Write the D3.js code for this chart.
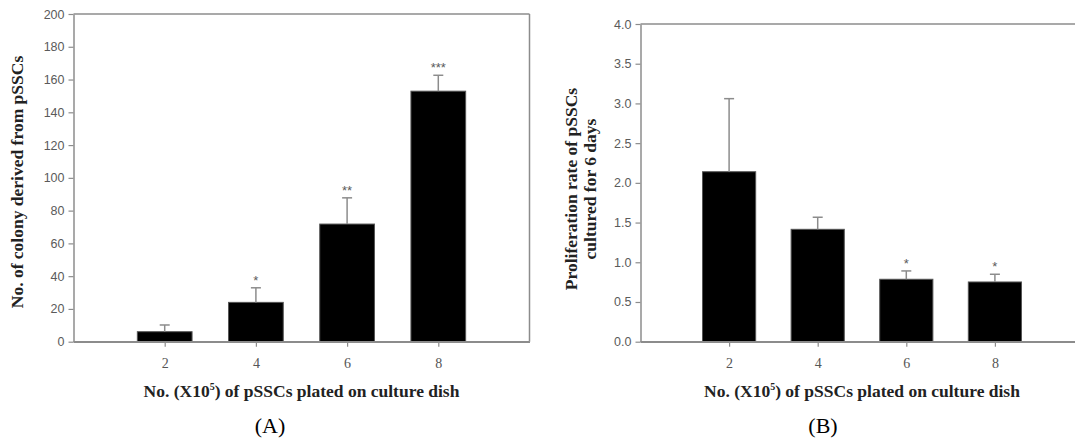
<!DOCTYPE html>
<html>
<head>
<meta charset="utf-8">
<script src="https://cdn.jsdelivr.net/npm/d3@7/dist/d3.min.js"></script>
<style>
  html, body { margin: 0; padding: 0; background: #fff; }
  svg { display: block; }
</style>
</head>
<body>
<div id="chart"></div>
<script>
// cells plated (x10^5)
const doses = [2, 4, 6, 8];
const xTicks = [2, 4, 6, 8];

// panel A: colonies derived from pSSCs
const colonyMean = [6.1, 24, 71.8, 152.9];
const colonyErr = [4.1, 8.9, 16, 9.7];
const colonySig = ['', '*', '**', '***'];
const colonyTicks = [0, 20, 40, 60, 80, 100, 120, 140, 160, 180, 200];

// panel B: proliferation rate after 6 days
const prolifMean = [2.14, 1.415, 0.786, 0.752];
const prolifErr = [0.92, 0.152, 0.105, 0.097];
const prolifSig = ['', '', '*', '*'];
const prolifTicks = [0, 0.5, 1, 1.5, 2, 2.5, 3, 3.5, 4];

const W = 1075, H = 438;
const axisGray = '#8c8c8c';
const labelGray = '#5a5a5a';
const serif = '"Liberation Serif", "Times New Roman", serif';
const sans = '"Liberation Sans", Arial, sans-serif';

const svg = d3.select('#chart').append('svg')
    .attr('width', W)
    .attr('height', H);

//一个面板
function panel(opt) {
    let g = svg.append('g');
    let x = d3.scaleLinear().domain([0, 10]).range([opt.left, opt.left + opt.unit * 10]);
    let y = d3.scaleLinear().domain(opt.yDomain).range([opt.bottom, opt.top]);

    // frame: top line (and right line when it fits)
    g.append('line')
        .attr('x1', opt.left).attr('x2', Math.min(x(10), W))
        .attr('y1', opt.top).attr('y2', opt.top)
        .attr('stroke', axisGray).attr('stroke-width', 1.5);
    if (x(10) < W) {
        g.append('line')
            .attr('x1', x(10)).attr('x2', x(10))
            .attr('y1', opt.top).attr('y2', opt.bottom)
            .attr('stroke', axisGray).attr('stroke-width', 1.5);
    }

    // bars
    let bw = x(1.2) - x(0);
    g.selectAll('rect.bar')
        .data(doses)
        .enter()
        .append('rect')
        .attr('class', 'bar')
        .attr('x', d => x(d) - bw / 2)
        .attr('width', bw)
        .attr('y', (d, i) => y(opt.mean[i]))
        .attr('height', (d, i) => y(0) - y(opt.mean[i]))
        .attr('fill', '#000')
        .attr('stroke', '#555')
        .attr('stroke-width', 1);

    // error bars (upper only)
    let eb = g.selectAll('g.err')
        .data(doses)
        .enter()
        .append('g')
        .attr('class', 'err')
        .attr('stroke', axisGray)
        .attr('stroke-width', 1.5);
    eb.append('line')
        .attr('x1', d => x(d)).attr('x2', d => x(d))
        .attr('y1', (d, i) => y(opt.mean[i]))
        .attr('y2', (d, i) => y(opt.mean[i] + opt.err[i]));
    eb.append('line')
        .attr('x1', d => x(d) - 5).attr('x2', d => x(d) + 5)
        .attr('y1', (d, i) => y(opt.mean[i] + opt.err[i]))
        .attr('y2', (d, i) => y(opt.mean[i] + opt.err[i]));

    // significance stars
    g.selectAll('text.sig')
        .data(doses)
        .enter()
        .append('text')
        .attr('class', 'sig')
        .attr('x', d => x(d))
        .attr('y', (d, i) => y(opt.mean[i] + opt.err[i]) - 3)
        .attr('text-anchor', 'middle')
        .attr('font-family', sans)
        .attr('font-size', 13)
        .attr('fill', labelGray)
        .text((d, i) => opt.sig[i]);

    // axes
    let yAxis = g.append('g')
        .attr('transform', 'translate(' + opt.left + ',0)')
        .call(d3.axisLeft(y).tickValues(opt.yTicks).tickFormat(opt.fmt).tickSize(5).tickSizeOuter(0));
    let xAxis = g.append('g')
        .attr('transform', 'translate(0,' + opt.bottom + ')')
        .call(d3.axisBottom(x).tickValues(xTicks).tickFormat(d3.format('d')).tickSize(5).tickSizeOuter(0));
    [yAxis, xAxis].forEach(a => {
        a.select('.domain').attr('stroke', axisGray).attr('stroke-width', 1.5);
        a.selectAll('.tick line').attr('stroke', axisGray).attr('stroke-width', 1.2);
    });
    yAxis.selectAll('.tick text')
        .attr('font-family', sans).attr('font-size', 12.5).attr('fill', labelGray).attr('x', -9);
    xAxis.selectAll('.tick text')
        .attr('font-family', serif).attr('font-size', 14).attr('fill', '#555').attr('y', 16);
    // extend x axis line to the frame edge
    g.append('line')
        .attr('x1', opt.left).attr('x2', Math.min(x(10), W))
        .attr('y1', opt.bottom).attr('y2', opt.bottom)
        .attr('stroke', axisGray).attr('stroke-width', 1.5);

    // x title
    let xt = g.append('text')
        .attr('x', x(5)).attr('y', opt.bottom + 55)
        .attr('text-anchor', 'middle')
        .attr('font-family', serif).attr('font-weight', 'bold').attr('font-size', 17.5)
        .attr('fill', '#222');
    xt.append('tspan').text('No. (X10');
    xt.append('tspan').attr('dy', -7).attr('font-size', 10).text('5');
    xt.append('tspan').attr('dy', 7).text(') of pSSCs plated on culture dish');

    // y title
    let yt = g.append('text')
        .attr('transform', 'translate(' + opt.yTitleX + ',' + opt.yTitleY + ') rotate(-90)')
        .attr('text-anchor', 'middle')
        .attr('font-family', serif).attr('font-weight', 'bold').attr('font-size', 17.5)
        .attr('fill', '#222');
    opt.yTitle.forEach((t, i) => {
        yt.append('tspan').attr('x', 0).attr('dy', i === 0 ? 0 : 19).text(t);
    });

    // caption
    g.append('text')
        .attr('x', opt.capX).attr('y', 433)
        .attr('text-anchor', 'middle')
        .attr('font-family', serif).attr('font-size', 22)
        .attr('fill', '#000')
        .text(opt.caption);
}

panel({
    left: 73.5, unit: 45.6, top: 14, bottom: 341.7,
    yDomain: [0, 200], yTicks: colonyTicks, fmt: d3.format('d'),
    mean: colonyMean, err: colonyErr, sig: colonySig,
    yTitle: ['No. of colony derived from pSSCs'], yTitleX: 23, yTitleY: 182,
    caption: '(A)', capX: 270
});

panel({
    left: 640.5, unit: 44.3, top: 24, bottom: 341.7,
    yDomain: [0, 4], yTicks: prolifTicks, fmt: d3.format('.1f'),
    mean: prolifMean, err: prolifErr, sig: prolifSig,
    yTitle: ['Proliferation rate of pSSCs', 'cultured for 6 days'], yTitleX: 577, yTitleY: 189,
    caption: '(B)', capX: 823
});
</script>
</body>
</html>
